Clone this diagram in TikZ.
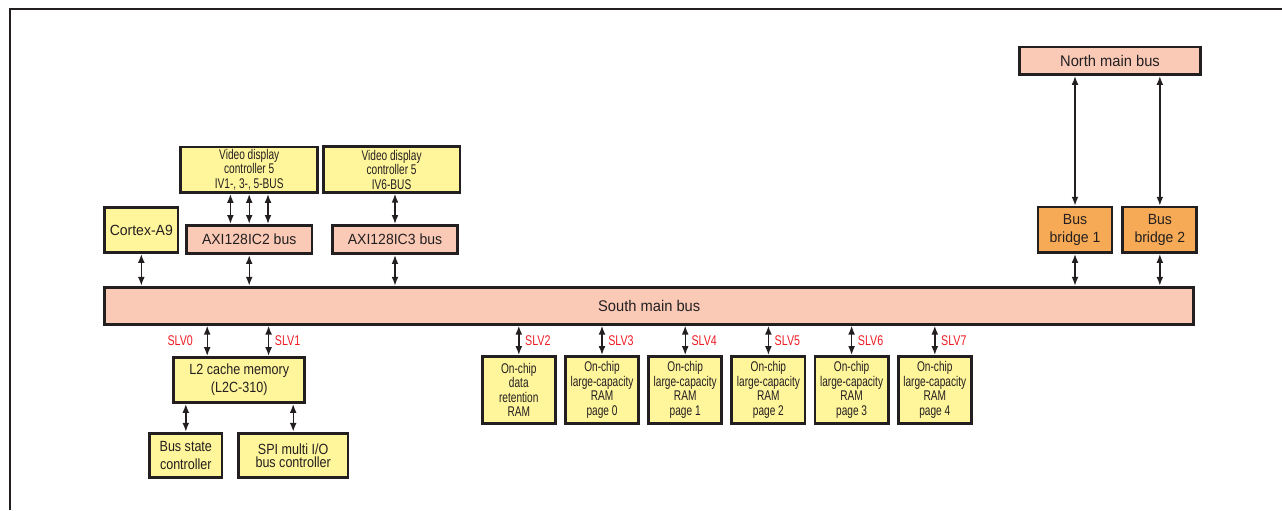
\documentclass[tikz,border=0pt]{standalone}
\usepackage{fontspec}
\setmainfont{Liberation Sans}
\newfontfamily\bigfont[FakeStretch=0.95]{Liberation Sans}
\newfontfamily\midfont[FakeStretch=0.85]{Liberation Sans}
\newfontfamily\narfont[FakeStretch=0.72]{Liberation Sans}
\newfontfamily\slvfont[FakeStretch=0.76]{Liberation Sans}
\usetikzlibrary{arrows.meta,positioning,calc}
\definecolor{bdr}{RGB}{35,31,32}
\definecolor{ylw}{RGB}{255,245,155}
\definecolor{pnk}{RGB}{250,202,182}
\definecolor{org}{RGB}{247,170,85}
\definecolor{slvred}{RGB}{237,28,36}
\tikzset{
  blk/.style={draw=bdr,line width=2pt,align=center,inner sep=1pt,text=bdr},
  ylwblk/.style={blk,fill=ylw,font=\fontsize{10.5}{12.8}\midfont},
  cpublk/.style={blk,fill=ylw,minimum width=1.83cm,minimum height=1.13cm,font=\fontsize{10.5}{12}\bigfont},
  vidblk/.style={blk,fill=ylw,minimum width=3.42cm,minimum height=1.14cm,font=\fontsize{10}{10.3}\narfont},
  ramblk/.style={blk,fill=ylw,minimum width=1.83cm,minimum height=1.68cm,font=\fontsize{10}{10.3}\narfont},
  busblk/.style={blk,fill=pnk,font=\fontsize{11}{12}\bigfont},
  axiblk/.style={blk,fill=pnk,minimum width=3.14cm,minimum height=0.71cm,font=\fontsize{10.5}{12}\bigfont},
  brgblk/.style={blk,fill=org,minimum width=1.85cm,minimum height=1.14cm,font=\fontsize{10.5}{12.5}\bigfont},
  arr/.style={{Latex[length=2.2mm,width=1.7mm]}-{Latex[length=2.2mm,width=1.7mm]},line width=1pt,draw=bdr},
  slv/.style={text=slvred,font=\fontsize{10}{10}\slvfont,inner sep=4pt}
}
\begin{document}
\begin{tikzpicture}
  \useasboundingbox (0,0) rectangle (32.05,12.75);
  % Frame
  \draw[bdr, line width=1.6pt] (0.25,0) -- (0.25,12.5175) -- (32.05,12.5175);

  % Main buses
  \node[busblk, minimum width=27.22cm, minimum height=0.93cm] (south) at (16.23,5.1075) {South main bus};
  \node[busblk, minimum width=4.51cm, minimum height=0.69cm] (north) at (27.75,11.23) {North main bus};

  % Bus bridges
  \node[brgblk] (bb1) at (26.875,7.005) {Bus\\bridge 1};
  \node[brgblk] (bb2) at (28.996,7.005) {Bus\\bridge 2};

  % Masters on the south bus
  \node[cpublk] (cpu) at (3.533,7.0) {Cortex-A9};
  \node[axiblk] (axi2) at (6.23,6.7625) {AXI128IC2 bus};
  \node[axiblk] (axi3) at (9.875,6.7625) {AXI128IC3 bus};
  \node[vidblk] (vid1) at (6.23,8.505) {Video display\\controller 5\\IV1-, 3-, 5-BUS};
  \node[vidblk] (vid2) at (9.79,8.51) {Video display\\controller 5\\IV6-BUS};

  % L2 cache and its slaves
  \node[ylwblk, minimum width=3.27cm, minimum height=1.13cm] (l2) at (5.98,3.25) {L2 cache memory\\(L2C-310)};
  \node[ylwblk, minimum width=1.81cm, minimum height=1.12cm] (bsc) at (4.645,1.3625) {Bus state\\controller};
  \node[ylwblk, minimum width=2.74cm, minimum height=1.12cm, font=\fontsize{10.5}{9.5}\midfont] (spi) at (7.33,1.3625) {SPI multi I/O\\bus controller};

  % On-chip RAM
  \node[ramblk] (ram) at (12.97,3.0) {On-chip\\data\\retention\\RAM};
  \foreach \p in {0,...,4}
    \node[ramblk] (ram\p) at ({15.05+2.08*\p},3.0) {On-chip\\large-capacity\\RAM\\page \p};

  % Connections above the south bus
  \foreach \dx in {-0.47,0,0.47}
    \draw[arr] ($(vid1.south)+(\dx,0)$) -- ($(axi2.north)+(\dx,0)$);
  \draw[arr] (vid2.south -| axi3) -- (axi3.north);
  \draw[arr] (cpu.south) -- (cpu.south |- south.north);
  \draw[arr] (axi2.south) -- (axi2.south |- south.north);
  \draw[arr] (axi3.south) -- (axi3.south |- south.north);
  \draw[arr] (bb1.south) -- (bb1.south |- south.north);
  \draw[arr] (bb2.south) -- (bb2.south |- south.north);
  \draw[arr] (bb1.north) -- (bb1.north |- north.south);
  \draw[arr] (bb2.north) -- (bb2.north |- north.south);

  % Slave ports
  \coordinate (s0) at ($(l2.north)+(-0.8,0)$);
  \coordinate (s1) at ($(l2.north)+(0.735,0)$);
  \draw[arr] (s0) -- (s0 |- south.south) node[midway,left,slv,xshift=-0.2cm]{SLV0};
  \draw[arr] (s1) -- (s1 |- south.south) node[midway,right,slv]{SLV1};
  \draw[arr] (ram.north) -- (ram.north |- south.south) node[midway,right,slv]{SLV2};
  \foreach \p [count=\s from 3] in {0,...,4}
    \draw[arr] (ram\p.north) -- (ram\p.north |- south.south) node[midway,right,slv]{SLV\s};
  \draw[arr] (bsc.north) -- (bsc.north |- l2.south);
  \draw[arr] (spi.north) -- (spi.north |- l2.south);
\end{tikzpicture}
\end{document}
